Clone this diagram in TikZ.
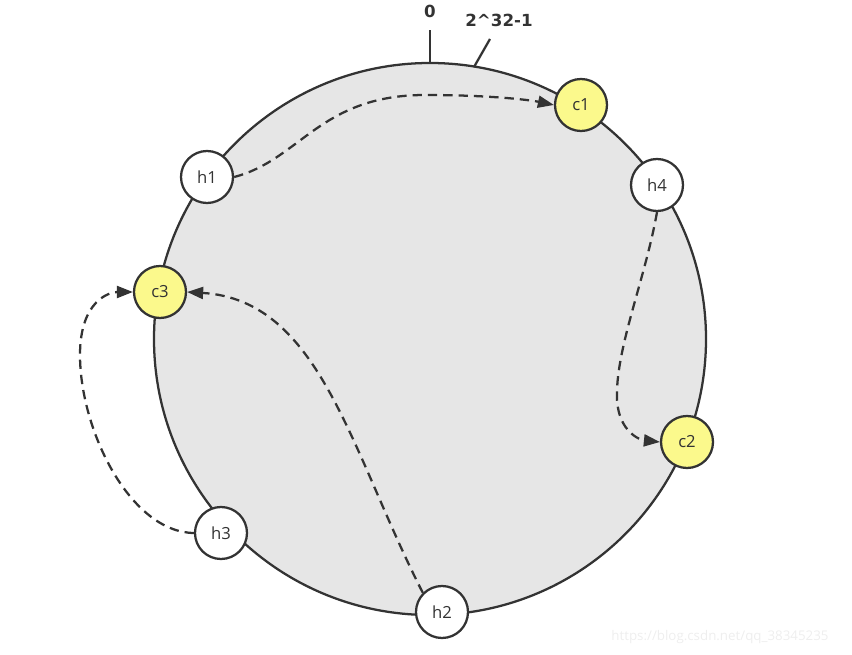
\documentclass[tikz,border=0pt]{standalone}
\usepackage{fontspec}
\setmainfont{Open Sans}
\newfontfamily\labelfont{DejaVu Sans}
\usetikzlibrary{arrows.meta}
\definecolor{ink}{HTML}{333333}
\definecolor{ringgrey}{HTML}{E6E6E6}
\definecolor{cacheyellow}{HTML}{FBF98C}
\definecolor{mark}{HTML}{EEEEEE}

\begin{document}
\begin{tikzpicture}[x=0.75pt,y=-0.75pt,
  ringline/.style={draw=ink,line width=1.7pt,fill=ringgrey},
  hashnode/.style={circle,draw=ink,line width=1.7pt,fill=white,minimum size=39pt,
    inner sep=0pt,text=ink,font=\fontsize{12.5}{14}\selectfont},
  cachenode/.style={hashnode,fill=cacheyellow},
  link/.style={draw=ink,line width=1.7pt,dash pattern=on 7pt off 4.5pt,
    -{Triangle[length=12pt,width=9pt]}},
  lbl/.style={text=ink,font=\labelfont\fontsize{12.5}{14}\selectfont\bfseries}]
\useasboundingbox (0,0) rectangle (852,655);

% ring of hash values
\draw[ringline] (430,339) circle (276);
\coordinate (zero) at (430,63);
\coordinate (max) at (474,67);
\draw[ink,line width=1.7pt] (zero) -- ++(0,-33);
\draw[ink,line width=1.7pt] (max) -- ++(16,-28);
\node[lbl] (zerolbl) at (430,11) {0};
\node[lbl] (maxlbl) at (499,20) {2\^{}32-1};

% servers and keys
\node[cachenode] (c1) at (581,105) {c1};
\node[cachenode] (c2) at (687,442) {c2};
\node[cachenode] (c3) at (160,292) {c3};
\node[hashnode] (h1) at (207,177) {h1};
\node[hashnode] (h4) at (657,185) {h4};
\node[hashnode] (h3) at (221,533) {h3};
\node[hashnode] (h2) at (442,612) {h2};

% lookups clockwise
\draw[link] (h1.east) .. controls (300,160) and (320,95) .. (425,95)
  .. controls (490,95) and (530,100) .. (c1.west);
\draw[link] (h4.south) .. controls (645,280) and (615,350) .. (617,400)
  .. controls (619,432) and (640,440) .. (c2.west);
\draw[link] (h2.north west) .. controls (350,450) and (320,300) .. (c3.east);
\draw[link] (h3.west) .. controls (130,532) and (80,430) .. (80,355)
  .. controls (80,300) and (110,292) .. (c3.west);

\node[text=mark,font=\fontsize{10}{12}\selectfont] (wm) at (720,637) {https://blog.csdn.net/qq\_38345235};
\end{tikzpicture}
\end{document}
